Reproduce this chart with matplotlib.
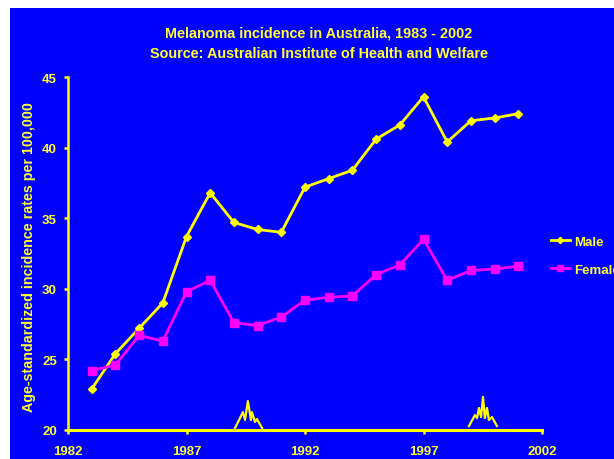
import matplotlib
matplotlib.use('Agg')
import matplotlib.pyplot as plt
from matplotlib.patches import Rectangle

# Values
years = [1983, 1984, 1985, 1986, 1987, 1988, 1989, 1990, 1991, 1992,
         1993, 1994, 1995, 1996, 1997, 1998, 1999, 2000, 2001]
male = [22.9, 25.4, 27.2, 29.0, 33.7, 36.8, 34.7, 34.2, 34.0, 37.2,
        37.8, 38.4, 40.6, 41.6, 43.6, 40.4, 41.9, 42.1, 42.4]
female = [24.2, 24.6, 26.7, 26.3, 29.8, 30.6, 27.6, 27.4, 28.0, 29.2,
          29.4, 29.5, 31.0, 31.7, 33.5, 30.6, 31.3, 31.4, 31.6]
x_ticks = [1982, 1987, 1992, 1997, 2002]
y_ticks = [20, 25, 30, 35, 40, 45]

# The two small hand drawn peaks sitting on the x axis
peak1_x = [1989.05, 1989.26, 1989.38, 1989.47, 1989.59, 1989.72, 1989.76, 1989.89, 1989.97, 1990.19]
peak1_y = [20.14, 20.85, 21.27, 20.71, 22.05, 20.71, 21.27, 20.57, 20.78, 20.14]
peak2_x = [1998.92, 1999.17, 1999.26, 1999.34, 1999.43, 1999.51, 1999.59, 1999.68, 1999.76, 1999.89, 2000.1]
peak2_y = [20.28, 21.06, 20.85, 21.56, 20.92, 22.34, 20.85, 21.56, 20.71, 20.92, 20.28]

yellow = '#ffff00'
text_yellow = '#ffff33'
blue = '#0000ff'
magenta = '#ff00ff'
font = 'Liberation Sans'

W, H = 614, 460
fig = plt.figure(figsize=(W / 100, H / 100), dpi=100, facecolor='white')

# Blue panel leaves a white strip at the top and on the left
fig.patches.append(Rectangle((10 / W, 0), (W - 10) / W, (H - 9) / H, transform=fig.transFigure,
                             facecolor=blue, edgecolor='none', zorder=-1))

ax = fig.add_axes([68 / W, (H - 431) / H, (542 - 68) / W, (431 - 78) / H])
ax.patch.set_visible(False)

ax.plot(years, male, color=yellow, linewidth=2, marker='D', markersize=4, label='Male', clip_on=False)
ax.plot(years, female, color=magenta, linewidth=2, marker='s', markersize=6, label='Female', clip_on=False)
ax.plot(peak1_x, peak1_y, color=yellow, linewidth=1.6)
ax.plot(peak2_x, peak2_y, color=yellow, linewidth=1.6)

ax.set_xlim(1982, 2002)
ax.set_ylim(20, 45)
ax.set_xticks(x_ticks)
ax.set_yticks(y_ticks)
ax.tick_params(colors=yellow, labelcolor=text_yellow, width=1.8, length=3)
ax.tick_params(axis='x', pad=8)
ax.tick_params(axis='y', pad=5)
for lab in ax.get_xticklabels() + ax.get_yticklabels():
    lab.set_fontname(font)
    lab.set_fontweight('bold')
    lab.set_fontsize(9.5)

ax.spines['top'].set_visible(False)
ax.spines['right'].set_visible(False)
ax.spines['left'].set_color(yellow)
ax.spines['bottom'].set_color(yellow)
ax.spines['left'].set_linewidth(1.8)
ax.spines['bottom'].set_linewidth(2.2)

fig.text(318.5 / W, 1 - 33 / H, 'Melanoma incidence in Australia, 1983 - 2002', color=text_yellow, ha='center', va='center',
         fontname=font, fontweight='bold', fontsize=10.35)
fig.text(318.5 / W, 1 - 54 / H, 'Source: Australian Institute of Health and Welfare', color=text_yellow, ha='center', va='center',
         fontname=font, fontweight='bold', fontsize=10.35)
fig.text(29.5 / W, 1 - 257 / H, 'Age-standardized incidence rates per 100,000', color=text_yellow, rotation=90, ha='center', va='center',
         fontname=font, fontweight='bold', fontsize=10.3)

# Legend runs off the right edge, as in the original
leg = fig.legend(loc='upper left', bbox_to_anchor=(540 / W, 1 - 226 / H), frameon=False, handlelength=1.5,
                 handletextpad=0.25, labelspacing=1.2, borderpad=0.3, markerscale=0.8,
                 prop={'family': font, 'weight': 'bold', 'size': 9.5})
for t in leg.get_texts():
    t.set_color(text_yellow)

plt.savefig('out.png', dpi=100)
